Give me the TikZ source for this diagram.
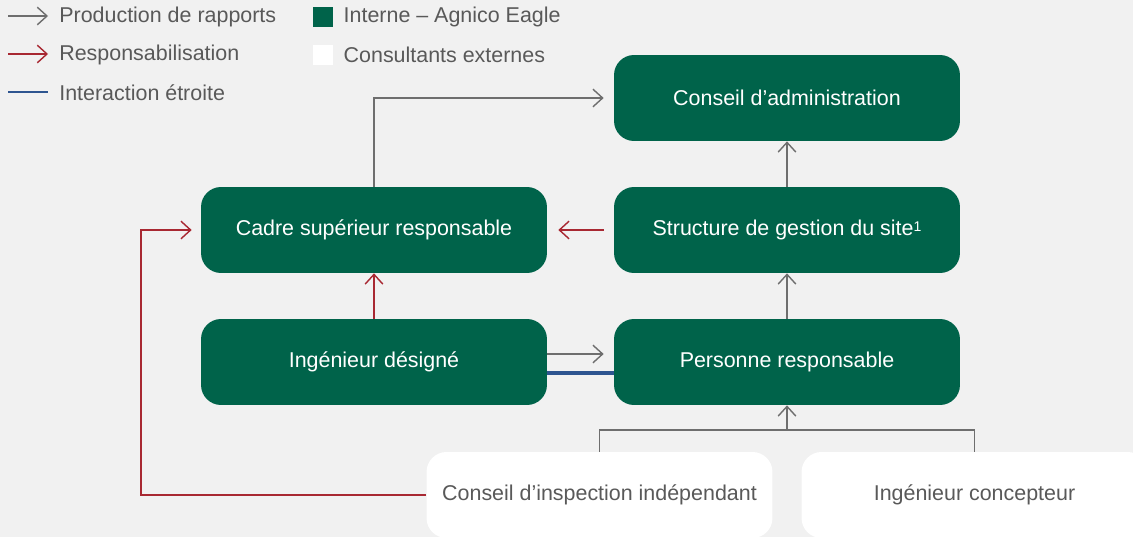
\documentclass[tikz,border=0pt]{standalone}
\usepackage{fontspec}
\setmainfont{Liberation Sans}
\usetikzlibrary{arrows.meta, calc, positioning}
\definecolor{bg}{HTML}{F1F1F1}
\definecolor{gr}{HTML}{00634A}
\definecolor{tx}{HTML}{595959}
\definecolor{ln}{HTML}{6E6E6E}
\definecolor{rd}{HTML}{A82832}
\definecolor{bl}{HTML}{2E5590}
\tikzset{
    tip/.style={-{Straight Barb[length=5.5pt,width=10pt]}},
    rep/.style={tip,ln,line width=0.8pt},
    acc/.style={tip,rd,line width=0.8pt},
    close/.style={bl,line width=2.3pt},
    box/.style={rounded corners=0.4cm,minimum width=6.92cm,minimum height=1.72cm,
        font=\fontsize{12.2}{14}\selectfont,inner sep=0pt},
    inbox/.style={box,fill=gr,text=white},
    exbox/.style={box,fill=white,text=tx},
    leg/.style={font=\fontsize{12.2}{14}\selectfont,text=tx,inner sep=0pt,anchor=west},
    sq/.style={minimum size=0.4cm,inner sep=0pt}
}
\begin{document}
\begin{tikzpicture}[x=0.02cm, y=-0.02cm]
    \fill[bg] (0,0) rectangle (1133,537);
    \useasboundingbox (0,0) rectangle (1133,537);
    % legend
    \node[leg] (lrep) at (59,17) {Production de rapports};
    \node[leg] (lacc) at (59,55) {Responsabilisation};
    \node[leg] (lclose) at (59,93) {Interaction étroite};
    \coordinate (lrep0) at (8,16);
    \coordinate (lacc0) at (8,54);
    \coordinate (lclose0) at (8,92);
    \draw[rep, shorten >=0.22cm] (lrep0) -- (lrep.west |- lrep0);
    \draw[acc, shorten >=0.22cm] (lacc0) -- (lacc.west |- lacc0);
    \draw[bl, line width=1.3pt, shorten >=0.22cm] (lclose0) -- (lclose.west |- lclose0);
    \node[sq, fill=gr] (lin) at (323,17) {};
    \node[sq, fill=white] (lex) at (323,55) {};
    \node[leg, right=0.2cm of lin] {Interne -- Agnico Eagle};
    \node[leg, right=0.2cm of lex] {Consultants externes};
    % boxes
    \node[inbox] (conseil) at (787,98) {Conseil d’administration};
    \node[inbox] (cadre) at (374,230) {Cadre supérieur responsable};
    \node[inbox] (struct) at (787,230) {Structure de gestion du site{\fontsize{8}{9}\selectfont\raisebox{0.5ex}{1}}};
    \node[inbox] (ing) at (374,362) {Ingénieur désigné};
    \node[inbox] (pers) at (787,362) {Personne responsable};
    \node[exbox] (cic) at (599.5,495) {Conseil d’inspection indépendant};
    \node[exbox] (ingc) at (974.5,495) {Ingénieur concepteur};
    % links
    \draw[rep, shorten >=0.2cm] (cadre) |- (conseil);
    \draw[rep] (struct) -- (conseil);
    \draw[rep] (pers) -- (struct);
    \draw[acc] (ing) -- (cadre);
    \draw[acc, shorten <=0.2cm, shorten >=0.22cm] (struct) -- (cadre);
    \draw[rep, shorten >=0.2cm] ([yshift=0.16cm]ing.east) -- ([yshift=0.16cm]pers.west);
    \draw[close] ([yshift=-0.22cm]ing.east) -- ([yshift=-0.22cm]pers.west);
    \coordinate (fork) at (787,430);
    \draw[rep] (fork) -- (pers);
    \draw[ln, line width=0.8pt] (cic.north) -- (cic.north |- fork) -- (ingc.north |- fork) -- (ingc.north);
    \coordinate (back) at (141,495);
    \draw[acc, shorten >=0.18cm] (cic) -- (back) |- (cadre);
\end{tikzpicture}
\end{document}
